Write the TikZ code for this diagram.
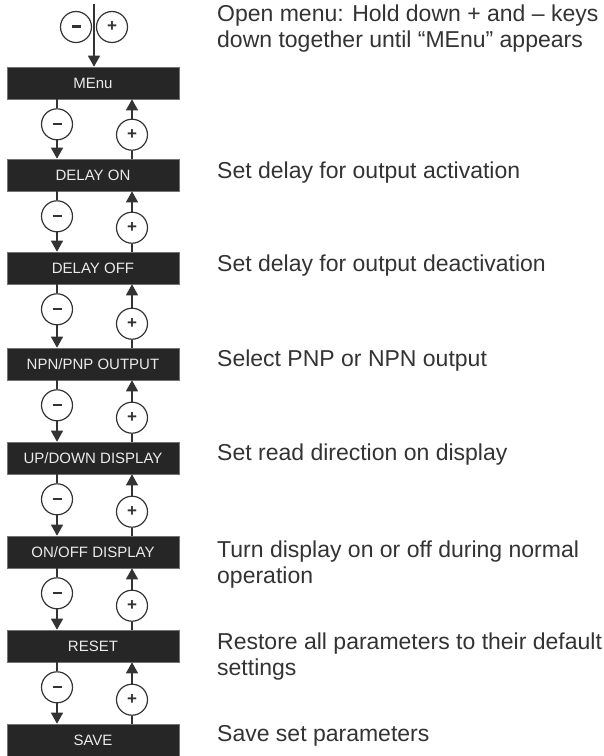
\documentclass[tikz,border=0pt]{standalone}
\usepackage{fontspec}
\setmainfont{Liberation Sans}
\usetikzlibrary{arrows.meta}
\definecolor{boxfill}{HTML}{262626}
\definecolor{ink}{HTML}{333333}
\begin{document}
\begin{tikzpicture}[x=1pt,y=-1pt,
  box/.style={draw=black!55,line width=0.6pt,fill=boxfill,text=white!92!black,minimum width=172pt,minimum height=32pt,inner sep=0pt,font=\fontsize{15}{18}\selectfont},
  key/.style={circle,draw=ink,line width=1.2pt,fill=white,minimum size=31pt,inner sep=0pt,font=\fontsize{17}{18}\selectfont\bfseries,text=ink},
  conn/.style={draw=ink,line width=1.3pt},
  arr/.style={conn,-{Triangle[length=11pt,width=12pt]}},
  desc/.style={anchor=base west,inner sep=0pt,align=left,text=ink,font=\fontsize{23}{26}\selectfont}]
\useasboundingbox (0,0) rectangle (604,756);
% boxes
\node[box] (b0) at (93,83) {MEnu};
\node[box] (b1) at (93,175) {DELAY ON};
\node[box] (b2) at (93,268) {DELAY OFF};
\node[box] (b3) at (93,364) {NPN/PNP OUTPUT};
\node[box] (b4) at (93,458) {UP/DOWN DISPLAY};
\node[box] (b5) at (93,552) {ON/OFF DISPLAY};
\node[box] (b6) at (93,646) {RESET};
\node[box] (b7) at (93,740) {SAVE};
% top entry
\coordinate (top) at (94,4);
\draw[arr] (top) -- (top |- b0.north);
\node[key] (tm) at (76,27) {\raisebox{1pt}{\rule{9pt}{2.6pt}}};
\node[key] (tp) at (112,27) {+};
% connections between boxes
\foreach \a/\b in {0/1,1/2,2/3,3/4,4/5,5/6,6/7}{
  \path (b\a.south) ++(-36,25) coordinate (mc\a);
  \path (b\b.north) ++(39,-24) coordinate (pc\a);
  \node[key] (m\a) at (mc\a -| 57,0) {\raisebox{1pt}{\rule{9pt}{2.6pt}}};
  \node[key] (p\a) at (pc\a -| 132,0) {+};
  \draw[conn] (m\a |- b\a.south) -- (m\a.north);
  \draw[arr] (m\a.south) -- (m\a |- b\b.north);
  \draw[conn] (p\a |- b\b.north) -- (p\a.south);
  \draw[arr] (p\a.north) -- (p\a |- b\a.south);
}
% descriptions
\node[desc] (d0) at (217,47) {Open menu: Hold down + and – keys\\down together until “MEnu” appears};
\node[desc] (d1) at (217,178) {Set delay for output activation};
\node[desc] (d2) at (217,271) {Set delay for output deactivation};
\node[desc] (d3) at (217,366) {Select PNP or NPN output};
\node[desc] (d4) at (217,460) {Set read direction on display};
\node[desc] (d5) at (217,583) {Turn display on or off during normal\\operation};
\node[desc] (d6) at (217,675) {Restore all parameters to their default\\settings};
\node[desc] (d7) at (217,741) {Save set parameters};
\end{tikzpicture}
\end{document}
